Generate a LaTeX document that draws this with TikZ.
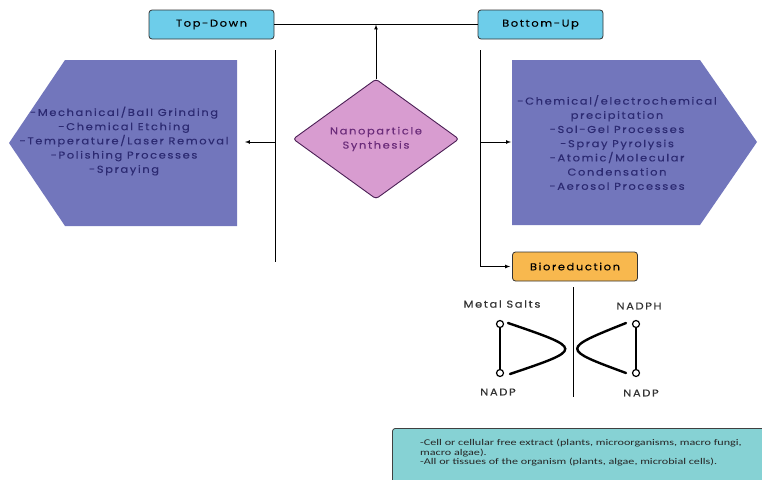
\documentclass[tikz,border=0pt]{standalone}
\usepackage{fontspec}
\setmainfont{Poppins}[FakeStretch=1.15, LetterSpace=16, FakeBold=0.2]
\newfontfamily\notefont{Carlito}[FakeStretch=1.38]
\usetikzlibrary{shapes.geometric, arrows, positioning}
\definecolor{skyblue}{HTML}{6DCDEA}
\definecolor{periwinkle}{HTML}{7276BC}
\definecolor{orchid}{HTML}{D89CD0}
\definecolor{plum}{HTML}{6B2C7A}
\definecolor{navytext}{HTML}{2C2A72}
\definecolor{amber}{HTML}{F8B84E}
\definecolor{notecyan}{HTML}{86D2D4}

\begin{document}
\begin{tikzpicture}[x=1pt, y=-1pt, font=\fontsize{10}{14.2}\selectfont]
\tikzstyle{method} = [rectangle, rounded corners=3pt, minimum width=125pt, minimum height=29pt, text centered, draw=black!80, fill=skyblue, line width=0.8pt]
\tikzstyle{bio} = [method, fill=amber]
\tikzstyle{list} = [align=center, text=navytext, inner sep=0pt]
\tikzstyle{link} = [black, line width=0.7pt]
\tikzstyle{arr} = [-latex, black, line width=0.7pt]
\tikzstyle{ring} = [circle, draw=black, fill=white, line width=1.2pt, minimum size=7pt, inner sep=0pt]
\tikzstyle{bond} = [line width=2.4pt, line cap=round]
\tikzstyle{tag} = [text=black!80, inner sep=0pt]

\useasboundingbox (0,0) rectangle (762,479);

% approaches
\node (topdown) [method] at (211.5,24.5) {Top-Down};
\node (bottomup) [method] at (540.5,24.5) {Bottom-Up};
\draw[link] (topdown) -- (bottomup);

% centre
\node (synth) [diamond, minimum width=166pt, minimum height=120pt, draw=plum!70!black, fill=orchid, line width=0.9pt, rounded corners=3pt, text=plum, align=center, inner sep=0pt] at (376,139) {Nanoparticle\\Synthesis};
\draw[arr] (synth.north) -- (synth.north |- topdown.east);

% top-down branch
\fill[periwinkle] (65,60) -- (237,60) -- (237,226) -- (65,226) -- (9,143) -- cycle;
\node (toplist) [list] at (124,141) {-Mechanical/Ball Grinding\\-Chemical Etching\\-Temperature/Laser Removal\\-Polishing Processes\\-Spraying};
\coordinate (ltop) at (275,50);
\coordinate (lbot) at (275,262);
\coordinate (lfork) at (275,142);
\coordinate (lin) at (245,142);
\draw[link] (ltop) -- (lbot);
\draw[arr] (lfork) -- (lin);

% bottom-up branch
\fill[periwinkle] (512,60) -- (700,60) -- (757,142) -- (700,225) -- (512,225) -- cycle;
\node (botlist) [list] at (617,142.5) {-Chemical/electrochemical\\precipitation\\-Sol-Gel Processes\\-Spray Pyrolysis\\-Atomic/Molecular\\Condensation\\-Aerosol Processes};
\coordinate (rtop) at (480,50);
\coordinate (rfork) at (480,142);
\coordinate (rin) at (511,142);
\draw[arr] (rfork) -- (rin);

\node (bioreduction) [bio] at (575,266.5) {Bioreduction};
\draw[arr, shorten >=2pt] (rtop) |- (bioreduction.west);

% cofactors
\coordinate (dtop) at (573,287);
\coordinate (dbot) at (573,397);
\draw[link] (dtop) -- (dbot);
\node (salts) [tag] at (502,304) {Metal Salts};
\node (nadpl) [tag] at (498,392) {NADP};
\node (nadph) [tag] at (639,306) {NADPH};
\node (nadpr) [tag] at (641,393) {NADP};
\node (c1) [ring] at (500,324) {};
\node (c2) [ring] at (500,373) {};
\node (c3) [ring] at (636,324) {};
\node (c4) [ring] at (636,373) {};
\draw[bond] (c1) -- (c2);
\draw[bond] (c3) -- (c4);
\draw[bond] (508,323) .. controls (584,349) .. (510,374);
\draw[bond] (626,323) .. controls (561,349) .. (626,373);

% sources
\node (sources) [anchor=north west, minimum width=380pt, minimum height=60pt, draw=black!75, fill=notecyan, rounded corners=3pt, line width=0.8pt] at (392,428) {};
\node (sourcetext) [anchor=north west, align=left, inner sep=0pt, font=\notefont\fontsize{8.8}{9.5}\selectfont, text=black!85] at (420,439) {-Cell or cellular free extract (plants, microorganisms, macro fungi,\\macro algae).\\-All or tissues of the organism (plants, algae, microbial cells).};
\end{tikzpicture}
\end{document}
